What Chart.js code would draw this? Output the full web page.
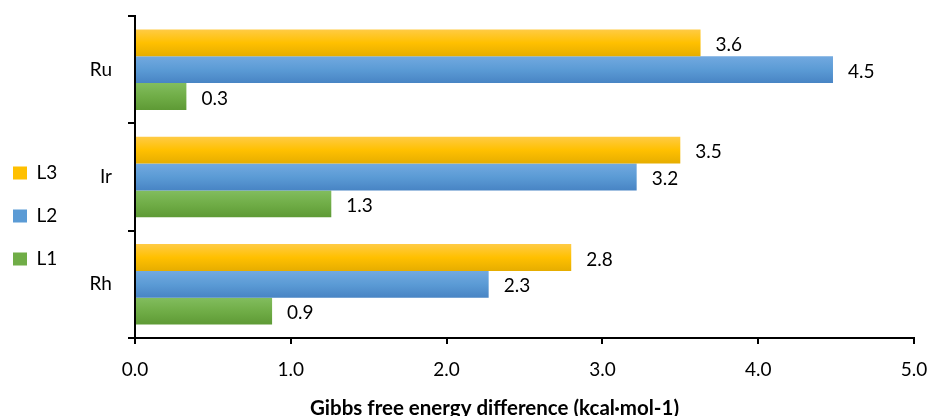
<!DOCTYPE html>
<html>
<head>
<meta charset="utf-8">
<script src="https://cdn.jsdelivr.net/npm/chart.js@4.4.1/dist/chart.umd.min.js"></script>
<style>
  html, body { margin: 0; padding: 0; background: #fff; }
  #wrap { width: 929px; height: 416px; position: relative; }
</style>
</head>
<body>
<div id="wrap"><canvas id="c"></canvas></div>
<script>
// ---- data ----
const categories = ['Ru', 'Ir', 'Rh'];
const seriesNames = ['L3', 'L2', 'L1'];
const valuesL3 = [3.63, 3.50, 2.80];
const valuesL2 = [4.48, 3.22, 2.27];
const valuesL1 = [0.33, 1.26, 0.88];
const xTicks = [0, 1, 2, 3, 4, 5];
const axisTitle = 'Gibbs free energy difference (kcal\u00B7mol-1)';

// ---- styles ----
const FONT = 'Lato';
const solidColors = ['#FFC000', '#5B9BD5', '#70AD47'];
const gradientStops = [
  ['#FFCB45', '#FFC000', '#E6AD00'],
  ['#72A9E0', '#5B9BD5', '#4884C4'],
  ['#82BD5E', '#70AD47', '#5E9A35']
];

const gradientPlugin = {
  id: 'barGradient',
  beforeDatasetsDraw(chart) {
    const ctx = chart.ctx;
    chart.data.datasets.forEach((ds, i) => {
      const meta = chart.getDatasetMeta(i);
      meta.data.forEach(el => {
        const top = el.y - el.height / 2, bot = el.y + el.height / 2;
        const g = ctx.createLinearGradient(0, top, 0, bot);
        const s = gradientStops[i];
        g.addColorStop(0, s[0]); g.addColorStop(0.5, s[1]); g.addColorStop(1, s[2]);
        el.options = Object.assign({}, el.options, { backgroundColor: g });
      });
    });
  }
};

const labelPlugin = {
  id: 'valueLabels',
  afterDatasetsDraw(chart) {
    const ctx = chart.ctx;
    ctx.save();
    ctx.font = '19px ' + FONT;
    ctx.fillStyle = '#000';
    ctx.textAlign = 'left';
    ctx.textBaseline = 'middle';
    chart.data.datasets.forEach((ds, i) => {
      const meta = chart.getDatasetMeta(i);
      meta.data.forEach((el, j) => {
        ctx.fillText(ds.data[j].toFixed(1), el.x + 15, el.y + 2);
      });
    });
    ctx.restore();
  },
  afterDraw(chart) {
    // x-axis title, placed a little left of the plot centre as in the original
    const ctx = chart.ctx;
    const a = chart.chartArea;
    ctx.save();
    ctx.font = 'bold 20.5px ' + FONT;
    ctx.fillStyle = '#000';
    ctx.textAlign = 'center';
    ctx.textBaseline = 'alphabetic';
    ctx.fillText(axisTitle, (a.left + a.right) / 2 - 30, 414.5);
    ctx.restore();
  }
};

new Chart(document.getElementById('c'), {
  type: 'bar',
  data: {
    labels: categories,
    datasets: [
      { label: seriesNames[0], data: valuesL3, backgroundColor: solidColors[0] },
      { label: seriesNames[1], data: valuesL2, backgroundColor: solidColors[1] },
      { label: seriesNames[2], data: valuesL1, backgroundColor: solidColors[2] }
    ]
  },
  options: {
    indexAxis: 'y',
    responsive: true,
    maintainAspectRatio: false,
    animation: false,
    layout: { padding: { left: -11, right: 15, top: 16, bottom: 0 } },
    datasets: { bar: { categoryPercentage: 0.75, barPercentage: 1.0, borderWidth: 0 } },
    plugins: {
      legend: {
        position: 'left',
        align: 'center',
        labels: {
          boxWidth: 14, boxHeight: 13, padding: 24,
          color: '#000',
          font: { family: FONT, size: 19 }
        }
      },
      tooltip: { enabled: false }
    },
    scales: {
      x: {
        type: 'linear',
        min: 0, max: 5,
        afterBuildTicks(scale) { scale.ticks = xTicks.map(v => ({ value: v })); },
        afterFit(scale) { scale.height = 78; scale.paddingLeft = 0; scale.paddingRight = 0; },
        ticks: {
          color: '#000', padding: 14,
          font: { family: FONT, size: 19 },
          callback: v => Number(v).toFixed(1)
        },
        grid: { drawOnChartArea: false, drawTicks: true, tickLength: 6, color: '#000', lineWidth: 2 },
        border: { color: '#000', width: 2 },
        title: { display: false, text: axisTitle }
      },
      y: {
        type: 'category',
        offset: true,
        afterFit(scale) { scale.width = 67.7; scale.paddingTop = 0; scale.paddingBottom = 0; },
        ticks: { color: '#000', padding: 16, font: { family: FONT, size: 19 } },
        grid: { drawOnChartArea: false, drawTicks: true, tickLength: 7, offset: true, color: '#000', lineWidth: 2 },
        border: { color: '#000', width: 2 }
      }
    }
  },
  plugins: [gradientPlugin, labelPlugin]
});
</script>
</body>
</html>
